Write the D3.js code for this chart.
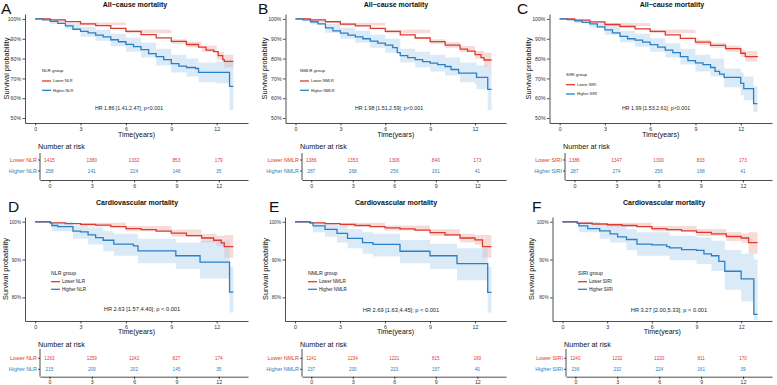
<!DOCTYPE html>
<html>
<head>
<meta charset="utf-8">
<script src="https://cdn.jsdelivr.net/npm/d3@7"></script>
<style>
  body { margin: 0; background: #fff; }
  svg { font-family: "Liberation Sans", Arial, sans-serif; }
  .axis path, .axis line { stroke: #222; stroke-width: 0.8; }
  .axis text { fill: #333; }
</style>
</head>
<body>
<div id="chart"></div>
<script>
// ---- data ----
const timeTicks = [0, 3, 6, 9, 12];
const pctTicksAll = [0.5, 0.6, 0.7, 0.8, 0.9, 1.0];
const pctTicksCv = [0.8, 0.9, 1.0];
const panelLetters = ["A", "B", "C", "D", "E", "F"];
const panelTitles = ["All\u2212cause mortality", "All\u2212cause mortality", "All\u2212cause mortality",
  "Cardiovascular mortality", "Cardiovascular mortality", "Cardiovascular mortality"];
const groupNames = ["NLR", "NMLR", "SIRI", "NLR", "NMLR", "SIRI"];
const hrTexts = [
  "HR 1.86 [1.41;2.47]; p<0.001",
  "HR 1.98 [1.51,2.59]; p<0.001",
  "HR 1.99 [1.53,2.61]; p<0.001",
  "HR 2.63 [1.57,4.40]; p < 0.001",
  "HR 2.69 [1.63,4.45]; p < 0.001",
  "HR 3.27 [2.00,5.33]; p < 0.001"
];
const riskLower = [
  [1415, 1380, 1332, 853, 179],
  [1386, 1353, 1306, 840, 173],
  [1386, 1347, 1300, 833, 173],
  [1263, 1259, 1242, 827, 174],
  [1241, 1234, 1221, 815, 169],
  [1240, 1232, 1220, 811, 170]
];
const riskHigher = [
  [258, 241, 224, 148, 35],
  [287, 268, 256, 161, 41],
  [287, 274, 256, 168, 41],
  [215, 209, 202, 145, 35],
  [237, 230, 223, 157, 40],
  [236, 232, 224, 161, 39]
];

// survival steps [time, S(t)]
const survLowerA = [[0,1],[1,0.995],[2,0.987],[3,0.975],[4,0.966],[5,0.952],[6,0.937],[7,0.921],[8,0.905],[9,0.887],[10,0.871],[10.8,0.858],[11.3,0.843],[11.8,0.835],[12.1,0.815],[12.4,0.795],[12.5,0.786],[13.1,0.786]];
const survHigherA = [[0,1],[0.5,0.995],[1,0.988],[1.5,0.978],[2,0.965],[2.5,0.948],[3,0.937],[3.5,0.93],[4,0.918],[4.5,0.91],[5,0.895],[5.5,0.885],[6,0.872],[6.5,0.86],[7,0.845],[7.5,0.825],[8,0.81],[8.5,0.795],[9,0.775],[9.5,0.762],[10,0.755],[10.6,0.75],[10.8,0.73],[12.8,0.73],[12.85,0.66],[13.1,0.66]];
const survLowerB = [[0,1],[1,0.995],[2,0.986],[3,0.974],[4,0.965],[5,0.952],[6,0.937],[7,0.92],[8,0.904],[9,0.886],[10,0.868],[11,0.848],[11.5,0.838],[12,0.82],[12.4,0.805],[12.6,0.793],[13.1,0.793]];
const survHigherB = [[0,1],[0.5,0.995],[1,0.986],[1.5,0.975],[2,0.955],[2.5,0.94],[3,0.928],[3.5,0.918],[4,0.91],[4.5,0.9],[5,0.888],[5.5,0.878],[6,0.868],[6.5,0.855],[6.8,0.83],[7,0.815],[7.5,0.805],[8,0.795],[8.5,0.785],[9,0.777],[9.5,0.77],[10,0.76],[10.4,0.745],[10.9,0.727],[12,0.727],[12.1,0.705],[12.8,0.705],[12.85,0.645],[13.1,0.645]];
const survLowerC = [[0,1],[1,0.994],[2,0.985],[3,0.972],[4,0.962],[5,0.95],[6,0.937],[7,0.92],[8,0.902],[9,0.883],[10,0.867],[11,0.85],[12,0.827],[12.3,0.81],[13.1,0.808]];
const survHigherC = [[0,1],[0.5,0.997],[1,0.99],[1.5,0.983],[2,0.975],[2.5,0.96],[3,0.945],[3.5,0.93],[4,0.912],[4.5,0.9],[5,0.893],[5.5,0.883],[6,0.87],[6.5,0.858],[7,0.843],[7.5,0.83],[8,0.81],[8.5,0.79],[9,0.778],[9.5,0.77],[10,0.755],[10.3,0.735],[10.6,0.722],[10.9,0.705],[11.7,0.705],[12,0.675],[12.2,0.648],[12.8,0.648],[12.85,0.573],[13.1,0.573]];
const survLowerD = [[0,1],[1,0.997],[2,0.995],[3,0.993],[4,0.991],[5,0.987],[6,0.982],[7,0.979],[8,0.975],[9,0.97],[10,0.963],[11,0.957],[11.8,0.951],[12.3,0.944],[12.5,0.934],[13.1,0.934]];
const survHigherD = [[0,1],[1,0.997],[1.1,0.99],[1.5,0.987],[2.5,0.975],[3,0.973],[3.5,0.965],[4,0.958],[4.5,0.951],[5.2,0.941],[6.5,0.936],[6.8,0.923],[9,0.923],[9.3,0.91],[10.8,0.91],[10.9,0.893],[12.8,0.893],[12.85,0.814],[13.1,0.814]];
const survLowerE = [[0,1],[1,0.997],[2,0.995],[3,0.993],[4,0.99],[5,0.987],[6,0.984],[7,0.981],[8,0.978],[9,0.971],[10,0.965],[11,0.957],[12,0.952],[12.5,0.934],[13.1,0.934]];
const survHigherE = [[0,1],[1,0.997],[1.2,0.989],[2,0.98],[2.8,0.969],[3.5,0.956],[4.5,0.945],[5.2,0.94],[7,0.922],[8.7,0.922],[9,0.91],[10.6,0.91],[10.8,0.889],[12.8,0.889],[12.85,0.813],[13.1,0.813]];
const survLowerF = [[0,1],[1,0.996],[2,0.994],[3,0.992],[4,0.99],[5,0.987],[6,0.982],[7,0.979],[8,0.976],[9,0.972],[10,0.968],[11,0.961],[12,0.957],[12.5,0.945],[13.1,0.945]];
const survHigherF = [[0,1],[1,0.996],[1.1,0.989],[1.7,0.982],[2.5,0.976],[3.2,0.968],[3.7,0.96],[4.3,0.953],[5,0.941],[6,0.939],[7,0.934],[7.2,0.931],[8,0.926],[9,0.924],[9.5,0.915],[10,0.91],[10.5,0.895],[10.9,0.869],[11.9,0.869],[12,0.849],[12.8,0.849],[12.85,0.755],[13.1,0.755]];

// confidence bands [time, lower, upper]
const ciLowerA = [[0,1,1],[3,0.968,0.982],[6,0.928,0.946],[9,0.875,0.898],[10,0.857,0.885],[11,0.835,0.865],[12,0.795,0.835],[12.5,0.755,0.82],[13.1,0.755,0.82]];
const ciHigherA = [[0,1,1],[1,0.975,0.998],[2,0.948,0.98],[3,0.91,0.96],[4,0.89,0.945],[5,0.862,0.925],[6,0.835,0.905],[7,0.805,0.88],[8,0.765,0.85],[9,0.73,0.82],[10,0.71,0.8],[10.8,0.68,0.78],[12,0.675,0.785],[12.85,0.54,0.79],[13.1,0.54,0.79]];
const ciLowerB = [[0,1,1],[3,0.966,0.981],[6,0.928,0.946],[9,0.874,0.898],[10,0.855,0.882],[11,0.833,0.863],[12,0.8,0.838],[12.6,0.76,0.83],[13.1,0.76,0.83]];
const ciHigherB = [[0,1,1],[1,0.972,0.998],[2,0.93,0.975],[3,0.9,0.955],[4,0.88,0.94],[5,0.855,0.92],[6,0.83,0.9],[7,0.78,0.85],[8,0.755,0.835],[9,0.735,0.82],[10,0.715,0.805],[11,0.68,0.78],[12,0.67,0.78],[12.1,0.645,0.765],[12.85,0.54,0.76],[13.1,0.54,0.76]];
const ciLowerC = [[0,1,1],[3,0.964,0.98],[6,0.928,0.946],[9,0.87,0.895],[10,0.853,0.88],[11,0.835,0.865],[12,0.808,0.845],[12.3,0.785,0.838],[13.1,0.785,0.838]];
const ciHigherC = [[0,1,1],[1,0.978,0.999],[2,0.955,0.99],[3,0.92,0.968],[4,0.882,0.94],[5,0.86,0.925],[6,0.835,0.903],[7,0.805,0.878],[8,0.77,0.85],[9,0.735,0.82],[10,0.71,0.8],[10.9,0.655,0.75],[12,0.615,0.73],[12.2,0.59,0.71],[12.85,0.53,0.66],[13.1,0.53,0.66]];
const ciLowerD = [[0,1,1],[3,0.988,0.997],[6,0.975,0.989],[9,0.96,0.979],[11,0.945,0.968],[12,0.935,0.963],[12.5,0.905,0.965],[13.1,0.905,0.965]];
const ciHigherD = [[0,1,1],[1.1,0.975,1.0],[2.5,0.955,0.99],[3.5,0.94,0.985],[4.5,0.922,0.975],[5.2,0.91,0.968],[6.8,0.89,0.955],[9.3,0.875,0.945],[10.9,0.85,0.95],[12.85,0.76,0.88],[13.1,0.76,0.88]];
const ciLowerE = [[0,1,1],[3,0.988,0.997],[6,0.977,0.99],[9,0.962,0.98],[11,0.946,0.968],[12,0.94,0.965],[12.5,0.905,0.965],[13.1,0.905,0.965]];
const ciHigherE = [[0,1,1],[1.2,0.972,1.0],[2,0.96,0.995],[2.8,0.945,0.99],[3.5,0.93,0.98],[4.5,0.915,0.972],[5.2,0.908,0.968],[7,0.89,0.952],[9,0.875,0.942],[10.8,0.845,0.93],[12.85,0.76,0.88],[13.1,0.76,0.88]];
const ciLowerF = [[0,1,1],[3,0.987,0.997],[6,0.975,0.989],[9,0.962,0.981],[11,0.949,0.972],[12,0.944,0.969],[12.5,0.915,0.972],[13.1,0.915,0.972]];
const ciHigherF = [[0,1,1],[1.1,0.972,1.0],[2.5,0.955,0.993],[3.2,0.945,0.99],[4.3,0.925,0.98],[5,0.91,0.972],[7.2,0.898,0.963],[9,0.888,0.958],[10,0.87,0.95],[10.9,0.82,0.925],[12,0.79,0.915],[12.85,0.74,0.9],[13.1,0.74,0.9]];

const survLower = [survLowerA, survLowerB, survLowerC, survLowerD, survLowerE, survLowerF];
const survHigher = [survHigherA, survHigherB, survHigherC, survHigherD, survHigherE, survHigherF];
const ciLower = [ciLowerA, ciLowerB, ciLowerC, ciLowerD, ciLowerE, ciLowerF];
const ciHigher = [ciHigherA, ciHigherB, ciHigherC, ciHigherD, ciHigherE, ciHigherF];

// ---- layout ----
const width = 777, height = 385;
const red = "#DE3B2E", blue = "#2B80C5";
const redFill = "#E8A4A0", blueFill = "#A9CDEB";

const rows = [
  {title: 5, top: 14, bottom: 123, letterBase: 14, xTitle: 135, nar: 146, r1: 160, r2: 171, tTop: 153, tAxis: 180,
   yDomain: [0.475, 1.025], yTicks: pctTicksAll, yFont: 5.2, legT: 4.4, legL: 3.9, legD1: 10.7, legD2: 20, hrFont: 5.3, numFont: 4.8},
  {title: 202.5, top: 217, bottom: 321, letterBase: 212, xTitle: 332, nar: 344, r1: 358.3, r2: 369.3, tTop: 349, tAxis: 376.7,
   yDomain: [0.7375, 1.0125], yTicks: pctTicksCv, yFont: 4.6, legT: 5.2, legL: 4.6, legD1: 8.4, legD2: 16, hrFont: 5.7, numFont: 4.6}
];
const layout = [
  {row: 0, plotLeft: 25, tableLeft: 40, right: 248, letterX: 1, titleX: 135, yTitleX: 6, legX: 42, legY: 70.3, hrX: 129, hrY: 108},
  {row: 0, plotLeft: 285.5, tableLeft: 302, right: 506, letterX: 258, titleX: 396, yTitleX: 264, legX: 300, legY: 70.3, hrX: 389, hrY: 108},
  {row: 0, plotLeft: 549.5, tableLeft: 565, right: 772, letterX: 517, titleX: 672, yTitleX: 528, legX: 566, legY: 74, hrX: 656, hrY: 108.5},
  {row: 1, plotLeft: 25, tableLeft: 40, right: 248, letterX: 8, titleX: 137, yTitleX: 5, legX: 51, legY: 273.3, hrX: 142, hrY: 309.5},
  {row: 1, plotLeft: 285, tableLeft: 302, right: 506, letterX: 269, titleX: 396, yTitleX: 265, legX: 308, legY: 273.3, hrX: 401, hrY: 310},
  {row: 1, plotLeft: 552.5, tableLeft: 566, right: 772, letterX: 532, titleX: 664, yTitleX: 531, legX: 578, legY: 273.3, hrX: 669, hrY: 310}
];
const xDomain = [-0.67, 14.07];

const svg = d3.select("#chart").append("svg")
  .attr("width", width)
  .attr("height", height);

layout.forEach((p, i) => {
  const r = rows[p.row];
  const g = svg.append("g");

  const x = d3.scaleLinear().domain(xDomain).range([p.plotLeft, p.right]);
  const y = d3.scaleLinear().domain(r.yDomain).range([r.bottom, r.top]);

  // panel letter + title
  g.append("text").attr("x", p.letterX).attr("y", r.letterBase)
    .attr("font-size", 15.5).attr("fill", "#111").text(panelLetters[i]);
  g.append("text").attr("x", p.titleX).attr("y", r.title).attr("dy", "0.35em")
    .attr("text-anchor", "middle").attr("font-size", 7).attr("font-weight", "bold")
    .attr("fill", "#111").text(panelTitles[i]);

  // confidence bands
  const area = d3.area()
    .x(d => x(d[0])).y0(d => y(Math.max(d[1], r.yDomain[0]))).y1(d => y(d[2]))
    .curve(d3.curveStepAfter);
  g.append("path").datum(ciLower[i]).attr("d", area)
    .attr("fill", redFill).attr("fill-opacity", 0.4);
  g.append("path").datum(ciHigher[i]).attr("d", area)
    .attr("fill", blueFill).attr("fill-opacity", 0.42);

  // survival curves
  const line = d3.line().x(d => x(d[0])).y(d => y(d[1])).curve(d3.curveStepAfter);
  g.append("path").datum(survLower[i]).attr("d", line)
    .attr("fill", "none").attr("stroke", red).attr("stroke-width", 1.3);
  g.append("path").datum(survHigher[i]).attr("d", line)
    .attr("fill", "none").attr("stroke", blue).attr("stroke-width", 1.3);

  // axes
  const yAxis = g.append("g").attr("class", "axis")
    .attr("transform", `translate(${p.plotLeft},0)`)
    .call(d3.axisLeft(y).tickValues(r.yTicks).tickFormat(d3.format(".0%")).tickSize(2.5).tickSizeOuter(0).tickPadding(1.5));
  yAxis.selectAll("text").attr("font-size", r.yFont);
  const xAxis = g.append("g").attr("class", "axis")
    .attr("transform", `translate(0,${r.bottom})`)
    .call(d3.axisBottom(x).tickValues(timeTicks).tickSize(2.5).tickSizeOuter(0).tickPadding(1.5));
  xAxis.selectAll("text").attr("font-size", 5.3);

  g.append("text")
    .attr("transform", `translate(${p.yTitleX},${(r.top + r.bottom) / 2}) rotate(-90)`)
    .attr("dy", "0.35em").attr("text-anchor", "middle")
    .attr("font-size", 7.4).attr("fill", "#111").text("Survival probability");
  g.append("text").attr("x", (p.plotLeft + p.right) / 2).attr("y", r.xTitle).attr("dy", "0.35em")
    .attr("text-anchor", "middle").attr("font-size", 7).attr("fill", "#111").text("Time(years)");

  // legend
  g.append("text").attr("x", p.legX).attr("y", p.legY).attr("dy", "0.35em")
    .attr("font-size", r.legT).attr("fill", "#222").text(groupNames[i] + " group");
  [["Lower " + groupNames[i], red, r.legD1], ["Higher " + groupNames[i], blue, r.legD2]].forEach(([lab, col, dy]) => {
    g.append("line").attr("x1", p.legX).attr("x2", p.legX + 9)
      .attr("y1", p.legY + dy).attr("y2", p.legY + dy)
      .attr("stroke", col).attr("stroke-width", 1.3);
    g.append("text").attr("x", p.legX + 11).attr("y", p.legY + dy).attr("dy", "0.35em")
      .attr("font-size", r.legL).attr("fill", "#222").text(lab);
  });

  // HR annotation
  g.append("text").attr("x", p.hrX).attr("y", p.hrY).attr("dy", "0.35em")
    .attr("text-anchor", "middle").attr("font-size", r.hrFont).attr("fill", "#222").text(hrTexts[i]);

  // risk table
  const xt = d3.scaleLinear().domain(xDomain).range([p.tableLeft, p.right]);
  g.append("text").attr("x", p.tableLeft - 2).attr("y", r.nar).attr("dy", "0.35em")
    .attr("font-size", 7.2).attr("fill", "#111").text("Number at risk");

  const tAxis = g.append("g").attr("class", "axis")
    .attr("transform", `translate(0,${r.tAxis})`)
    .call(d3.axisBottom(xt).tickValues(timeTicks).tickSize(2.5).tickSizeOuter(0).tickPadding(1.5));
  tAxis.selectAll("text").attr("font-size", 5.3);
  g.append("line").attr("x1", p.tableLeft).attr("x2", p.tableLeft)
    .attr("y1", r.tTop).attr("y2", r.tAxis).attr("stroke", "#222").attr("stroke-width", 0.8);

  [[riskLower[i], red, r.r1, "Lower "], [riskHigher[i], blue, r.r2, "Higher "]].forEach(([vals, col, yy, pre]) => {
    g.append("line").attr("x1", p.tableLeft - 2).attr("x2", p.tableLeft)
      .attr("y1", yy).attr("y2", yy).attr("stroke", "#222").attr("stroke-width", 0.8);
    g.append("text").attr("x", p.tableLeft - 3).attr("y", yy).attr("dy", "0.35em")
      .attr("text-anchor", "end").attr("font-size", 5.4).attr("fill", col).text(pre + groupNames[i]);
    g.selectAll(null).data(vals).enter().append("text")
      .attr("x", (d, k) => xt(timeTicks[k])).attr("y", yy).attr("dy", "0.35em")
      .attr("text-anchor", "middle").attr("font-size", r.numFont).attr("fill", col)
      .text(d => d);
  });
});
</script>
</body>
</html>
